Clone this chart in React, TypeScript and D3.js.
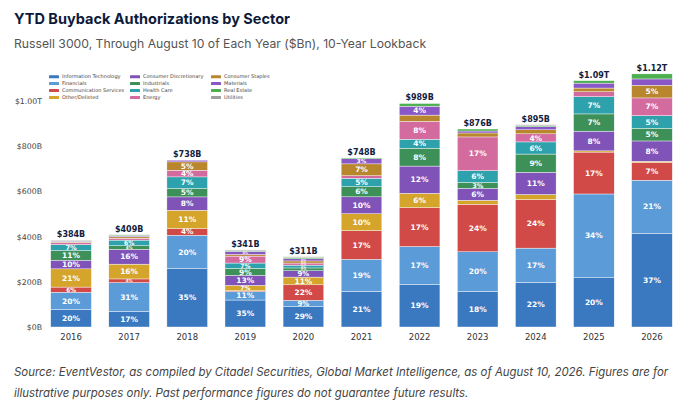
import { useEffect, useRef } from "react";
import * as d3 from "d3";

const years = ["2016", "2017", "2018", "2019", "2020", "2021", "2022", "2023", "2024", "2025", "2026"];
const totals = [384, 409, 738, 341, 311, 748, 989, 876, 895, 1090, 1120];

// share of each year's total, %
const infoTech = [20, 17, 35, 35, 29, 21, 19, 18, 22, 20, 37];
const financials = [20, 31, 20, 11, 9, 19, 17, 20, 17, 34, 21];
const commServices = [6, 4, 4, 1, 22, 17, 17.4, 24, 24, 17, 7];
const otherDelisted = [21, 16, 11, 7, 11, 10, 6.4, 2, 2.5, 0.5, 0.5];
const consDisc = [10, 16, 8, 13, 9, 10, 12.2, 6, 11, 8, 8];
const industrials = [11, 4, 5, 9, 4, 6, 8, 3, 9, 7, 5];
const healthCare = [7, 6, 7, 7, 4, 5, 4, 6, 6, 7, 5];
const energy = [2, 2, 4, 9, 3, 1.5, 8, 17, 4, 2, 7];
const consStaples = [1, 1.5, 5, 2, 3, 7, 2.8, 2, 2, 1.5, 5];
const materials = [1, 1, 1, 4, 3, 3, 4, 1, 1.5, 2, 2.5];
const realEstate = [0.5, 1, 0, 1, 2, 0.5, 1.2, 1, 0.5, 1, 2];
const utilities = [0.5, 0.5, 0, 1, 1, 0, 0, 0, 0.5, 0, 0];

const sectors = [
  "Information Technology",
  "Financials",
  "Communication Services",
  "Other/Delisted",
  "Consumer Discretionary",
  "Industrials",
  "Health Care",
  "Energy",
  "Consumer Staples",
  "Materials",
  "Real Estate",
  "Utilities",
];
const shares = [
  infoTech, financials, commServices, otherDelisted, consDisc, industrials,
  healthCare, energy, consStaples, materials, realEstate, utilities,
];
const colors = [
  "#3a78c0", "#5b9bd8", "#d14a47", "#d4a52a", "#8053b8", "#3d9058",
  "#2ea2ac", "#d36b9f", "#b8862d", "#8a58c6", "#4caf50", "#9e9e9e",
];
const yTicks = [0, 200, 400, 600, 800, 1000];

const W = 686;
const H = 420;
const chartFont = "'DejaVu Sans', sans-serif";

const money = (v: number) =>
  v >= 1000 ? `$${(v / 1000).toFixed(2)}T` : `$${v}B`;

export default function App() {
  const gRef = useRef<SVGGElement>(null);

  useEffect(() => {
    document.body.style.margin = "0";
    if (!gRef.current) return;
    const root = d3.select(gRef.current);
    root.selectAll("*").remove();

    const rows = years.map((year, i) => {
      const row: Record<string, number | string> = { year };
      sectors.forEach((s, k) => {
        row[s] = (shares[k][i] / 100) * totals[i];
      });
      return row;
    });

    const x = d3.scaleBand().domain(years).range([42, 681]).paddingInner(0.3).paddingOuter(0.15);
    const y = d3.scaleLinear().domain([0, 1000]).range([327, 101]);

    const stack = d3.stack<Record<string, number | string>>().keys(sectors);
    const layers = stack(rows as any);

    // bars
    const g = root.append("g");
    layers.forEach((layer, k) => {
      g.selectAll(`.seg${k}`)
        .data(layer)
        .enter()
        .append("rect")
        .attr("x", (d) => x(d.data.year as string)!)
        .attr("width", x.bandwidth())
        .attr("y", (d) => y(d[1]))
        .attr("height", (d) => Math.max(0, y(d[0]) - y(d[1])))
        .attr("fill", colors[k])
        .attr("stroke", "#ffffff")
        .attr("stroke-width", 0.4);
    });

    // percent labels (shrink on thin segments)
    layers.forEach((layer, k) => {
      layer.forEach((d, i) => {
        const pct = shares[k][i];
        if (pct < 3) return;
        const h = y(d[0]) - y(d[1]);
        const fs = Math.max(3, Math.min(7.5, h * 1.1));
        g.append("text")
          .attr("x", x(years[i])! + x.bandwidth() / 2)
          .attr("y", (y(d[0]) + y(d[1])) / 2)
          .attr("dy", "0.35em")
          .attr("text-anchor", "middle")
          .attr("fill", "#ffffff")
          .attr("font-family", chartFont)
          .attr("font-size", `${fs}px`)
          .attr("font-weight", "bold")
          .text(`${Math.round(pct)}%`);
      });
    });

    // totals
    g.selectAll(".total")
      .data(years)
      .enter()
      .append("text")
      .attr("x", (d) => x(d)! + x.bandwidth() / 2)
      .attr("y", (_, i) => y(totals[i]) - 3)
      .attr("text-anchor", "middle")
      .attr("fill", "#14213d")
      .attr("font-family", chartFont)
      .attr("font-size", "8px")
      .attr("font-weight", "bold")
      .text((_, i) => money(totals[i]));

    // axes
    const yAxis = root
      .append("g")
      .attr("transform", "translate(44,0)")
      .call(d3.axisLeft(y).tickValues(yTicks).tickSize(0).tickPadding(2).tickFormat((v) => money(+v)));
    yAxis.select(".domain").remove();
    yAxis.selectAll("text").attr("fill", "#444").attr("font-family", chartFont).attr("font-size", "7.8px");

    const xAxis = root
      .append("g")
      .attr("transform", "translate(0,327)")
      .call(d3.axisBottom(x).tickSize(0).tickPadding(7));
    xAxis.select(".domain").remove();
    xAxis.selectAll("text").attr("fill", "#333").attr("font-family", chartFont).attr("font-size", "8.5px");

    // legend, column-major, 3 columns
    const legend = root.append("g").attr("font-family", chartFont);
    sectors.forEach((s, k) => {
      const col = Math.floor(k / 4);
      const row = k % 4;
      const lx = 49 + col * 81;
      const ly = 76.7 + row * 6.9;
      legend.append("rect")
        .attr("x", lx)
        .attr("y", ly - 1.5)
        .attr("width", 10)
        .attr("height", 3)
        .attr("rx", 0.5)
        .attr("fill", colors[k]);
      legend.append("text")
        .attr("x", lx + 13)
        .attr("y", ly)
        .attr("dy", "0.35em")
        .attr("fill", "#444")
        .attr("font-size", "5px")
        .text(s);
    });
  }, []);

  return (
    <svg width={W} height={H} style={{ display: "block", background: "#fff" }}>
      <text x={14} y={24} fontFamily="Inter, sans-serif" fontWeight={700} fontSize={14.5} fill="#0d1a3a">
        YTD Buyback Authorizations by Sector
      </text>
      <text x={14} y={48} fontFamily="Inter, sans-serif" fontSize={12.2} fill="#555">
        Russell 3000, Through August 10 of Each Year ($Bn), 10-Year Lookback
      </text>
      <g ref={gRef} />
      <text x={14} y={376} fontFamily="Inter, sans-serif" fontStyle="italic" fontSize={11.45} fill="#444">
        Source: EventVestor, as compiled by Citadel Securities, Global Market Intelligence, as of August 10, 2026. Figures are for
      </text>
      <text x={14} y={397} fontFamily="Inter, sans-serif" fontStyle="italic" fontSize={11.45} fill="#444">
        illustrative purposes only. Past performance figures do not guarantee future results.
      </text>
    </svg>
  );
}
